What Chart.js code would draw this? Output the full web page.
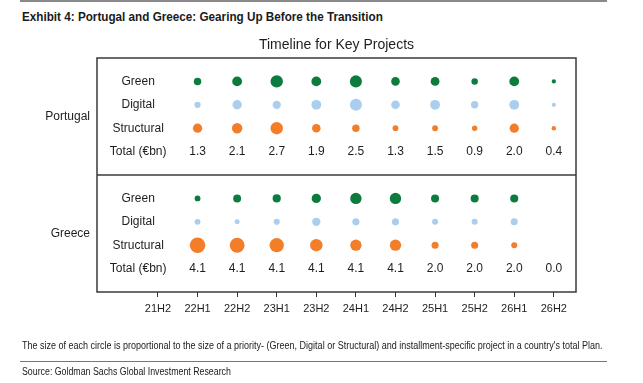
<!DOCTYPE html>
<html>
<head>
<meta charset="utf-8">
<script src="https://cdn.jsdelivr.net/npm/chart.js@4/dist/chart.umd.min.js"></script>
<style>
html,body{margin:0;padding:0;background:#fff;}
body{width:643px;height:383px;position:relative;overflow:hidden;font-family:"Liberation Sans",Arial,sans-serif;}
canvas{position:absolute;left:0;top:0;}
.rule{position:absolute;left:20px;width:587px;height:0;}
#r1{top:0px;border-top:2px solid #8a8a8a;}
#r2{top:361px;border-top:1px solid #777;}
.narrow{font-family:"Liberation Sans Narrow","Arial Narrow","Liberation Sans",sans-serif;position:absolute;left:22px;white-space:nowrap;color:#1a1a1a;transform-origin:0 50%;}
#head{top:9px;font-weight:bold;font-size:13px;transform:scaleX(0.9);}
#note{top:340px;font-size:10px;transform:scaleX(0.9);}
#src{top:366px;font-size:10px;transform:scaleX(0.88);}
</style>
</head>
<body>
<div class="rule" id="r1"></div>
<div class="narrow" id="head">Exhibit 4: Portugal and Greece: Gearing Up Before the Transition</div>
<canvas id="c" width="643" height="383"></canvas>
<div class="narrow" id="note">The size of each circle is proportional to the size of a priority- (Green, Digital or Structural) and installment-specific project in a country's total Plan.</div>
<div class="rule" id="r2"></div>
<div class="narrow" id="src">Source: Goldman Sachs Global Investment Research</div>
<script>
// ---- data ----
const chartTitle = 'Timeline for Key Projects';
const periods = ['21H2','22H1','22H2','23H1','23H2','24H1','24H2','25H1','25H2','26H1','26H2'];
const rowLabels = ['Green','Digital','Structural','Total (\u20acbn)'];
const countries = ['Portugal','Greece'];
// values (EUR bn) for 22H1 .. 26H2
const ptGreen      = [0.40,0.69,1.10,0.69,1.05,0.53,0.56,0.30,0.69,0.13];
const ptDigital    = [0.28,0.63,0.49,0.69,1.05,0.53,0.69,0.39,0.69,0.13];
const ptStructural = [0.62,0.78,1.11,0.52,0.40,0.24,0.25,0.21,0.62,0.14];
const ptTotal      = [1.3,2.1,2.7,1.9,2.5,1.3,1.5,0.9,2.0,0.4];
const grGreen      = [0.45,0.84,0.89,1.14,1.71,1.71,0.86,0.86,0.86,0];
const grDigital    = [0.45,0.33,0.50,0.91,0.68,0.68,0.48,0.48,0.66,0];
const grStructural = [3.20,2.93,2.71,2.05,1.71,1.71,0.66,0.66,0.48,0];
const grTotal      = [4.1,4.1,4.1,4.1,4.1,4.1,2.0,2.0,2.0,0.0];

// ---- styles ----
const colors = {Green:'#0b7c3e', Digital:'#abcdee', Structural:'#f27e2a'};
const FONT = '"Liberation Sans", Arial, sans-serif';
const TEXT = '#1e1e1e';

const countryData = [
  {name:countries[0], series:[ptGreen,ptDigital,ptStructural], totals:ptTotal, rowOffset:0},
  {name:countries[1], series:[grGreen,grDigital,grStructural], totals:grTotal, rowOffset:5}
];
countryData.forEach(c => { c.planTotal = c.totals.reduce((a,b)=>a+b,0); });

const datasets = [];
countryData.forEach(c => {
  c.series.forEach((vals, k) => {
    const cat = rowLabels[k];
    datasets.push({
      label: c.name + ' ' + cat,
      data: vals.map((v,i)=>({x:i+1, y:c.rowOffset+k+1, v:v, share:v/c.planTotal})).filter(p=>p.v>0),
      backgroundColor: colors[cat],
      borderColor: colors[cat],
      borderWidth: 0,
      pointRadius: ctx => ctx.raw ? 24*Math.sqrt(ctx.raw.share) : 0,
      pointHoverRadius: ctx => ctx.raw ? 24*Math.sqrt(ctx.raw.share) : 0,
      showLine: false
    });
  });
});

const decor = {
  id:'decor',
  afterDatasetsDraw(chart){
    const {ctx, chartArea:a, scales:{x,y}} = chart;
    ctx.save();
    ctx.strokeStyle = '#3a3a3a';
    ctx.lineWidth = 1.5;
    ctx.strokeRect(a.left, a.top, a.right-a.left, a.bottom-a.top);
    const yd = Math.round(y.getPixelForValue(5));
    ctx.beginPath(); ctx.moveTo(a.left, yd); ctx.lineTo(a.right, yd); ctx.stroke();
    // title
    ctx.fillStyle = TEXT;
    ctx.font = '14px ' + FONT;
    ctx.textAlign = 'center'; ctx.textBaseline = 'middle';
    ctx.fillText(chartTitle, (a.left+a.right)/2, 45);
    // row labels, totals, country labels
    ctx.font = '12px ' + FONT;
    countryData.forEach(c => {
      rowLabels.forEach((lab,k) => {
        ctx.textAlign = 'center';
        ctx.fillText(lab, x.getPixelForValue(-0.5), y.getPixelForValue(c.rowOffset+k+1));
      });
      c.totals.forEach((t,i) => {
        ctx.textAlign = 'center';
        ctx.fillText(t.toFixed(1), x.getPixelForValue(i+1), y.getPixelForValue(c.rowOffset+4));
      });
      ctx.textAlign = 'right';
      ctx.fillText(c.name, a.left-7, y.getPixelForValue(c.rowOffset+2.5));
    });
    ctx.restore();
  }
};

new Chart(document.getElementById('c'), {
  type:'scatter',
  data:{datasets},
  options:{
    responsive:false,
    devicePixelRatio:1,
    animation:false,
    events:[],
    layout:{padding:{left:97, right:67, top:58, bottom:65}},
    plugins:{legend:{display:false}, tooltip:{enabled:false}},
    scales:{
      x:{
        type:'linear', min:-1.54, max:10.56,
        afterBuildTicks: s => { s.ticks = periods.map((_,i)=>({value:i})); },
        afterFit: s => { s.height = 26; },
        grid:{drawOnChartArea:false, drawTicks:true, tickLength:5, color:'#333', lineWidth:1},
        border:{display:false},
        ticks:{callback: v => periods[v], autoSkip:false, maxRotation:0, padding:5, color:TEXT, font:{family:FONT, size:11}}
      },
      y:{type:'linear', min:0, max:10, reverse:true, display:false}
    }
  },
  plugins:[decor]
});
</script>
</body>
</html>
